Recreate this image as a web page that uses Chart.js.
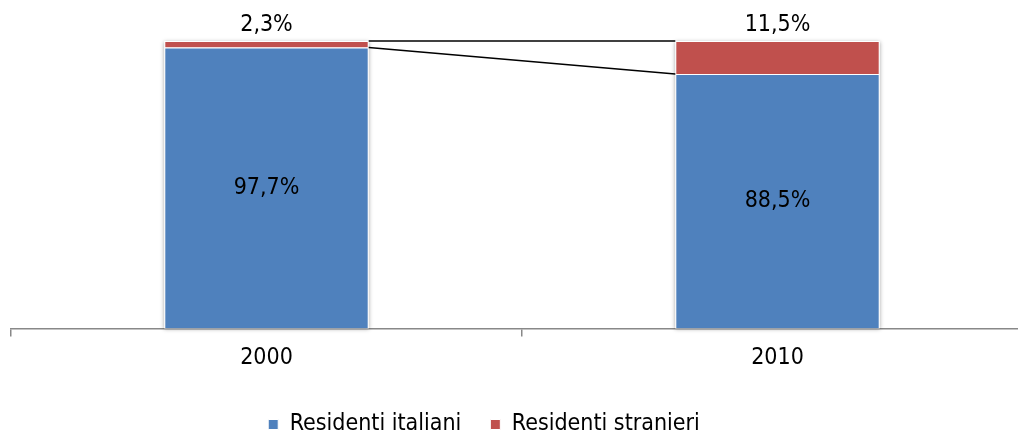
<!DOCTYPE html>
<html>
<head>
<meta charset="utf-8">
<script src="https://cdn.jsdelivr.net/npm/chart.js@4/dist/chart.umd.min.js"></script>
<style>
  html, body { margin: 0; padding: 0; background: #fff; overflow: hidden; }
  #wrap { position: relative; width: 1042px; height: 446px; }
</style>
</head>
<body>
<div id="wrap"><canvas id="myChart"></canvas></div>
<script>
// Composizione dei residenti
var anni = ["2000", "2010"];
var italiani = [97.7, 88.5];
var stranieri = [2.3, 11.5];
var serieNomi = ["Residenti italiani", "Residenti stranieri"];
var colori = ["#4F81BD", "#C0504D"];

var fontName = "'DejaVu Sans Condensed', 'DejaVu Sans', sans-serif";

function fmt(v) {
    return v.toFixed(1).replace(".", ",") + "%";
}

// ombra leggera dietro le colonne
var shadowPlugin = {
    id: "shadow",
    beforeDatasetsDraw: function(chart) {
        var ctx = chart.ctx;
        var m0 = chart.getDatasetMeta(0), m1 = chart.getDatasetMeta(1);
        ctx.save();
        ctx.shadowColor = "rgba(0,0,0,0.35)";
        ctx.shadowBlur = 4;
        ctx.shadowOffsetY = 1;
        ctx.fillStyle = "#fff";
        m0.data.forEach(function(bar, i) {
            var top = m1.data[i].y;
            ctx.fillRect(bar.x - bar.width / 2, top, bar.width, bar.base - top);
        });
        ctx.restore();
    }
};

// linee di serie + etichette
var labelPlugin = {
    id: "labels",
    afterLayout: function(chart) {
        // legenda un po' spostata a sinistra come nell'originale
        chart.legend.left -= 38;
        chart.legend.right -= 38;
    },
    afterDatasetsDraw: function(chart) {
        var ctx = chart.ctx;
        ctx.save();
        ctx.strokeStyle = "#000";
        ctx.lineWidth = 1.5;
        [0, 1].forEach(function(d) {
            var bars = chart.getDatasetMeta(d).data;
            ctx.beginPath();
            ctx.moveTo(bars[0].x + bars[0].width / 2, bars[0].y);
            ctx.lineTo(bars[1].x - bars[1].width / 2, bars[1].y);
            ctx.stroke();
        });
        ctx.fillStyle = "#000";
        ctx.font = "23px " + fontName;
        ctx.textAlign = "center";
        ctx.textBaseline = "middle";
        chart.getDatasetMeta(0).data.forEach(function(bar, i) {
            ctx.fillText(fmt(italiani[i]), bar.x, (bar.y + bar.base) / 2);
        });
        chart.getDatasetMeta(1).data.forEach(function(bar, i) {
            ctx.fillText(fmt(stranieri[i]), bar.x, bar.y - 16);
        });
        ctx.restore();
    }
};

new Chart("myChart", {
    type: "bar",
    data: {
        labels: anni,
        datasets: [{
            label: serieNomi[0],
            data: italiani,
            backgroundColor: colori[0],
            borderColor: "#fff",
            borderWidth: 1
        }, {
            label: serieNomi[1],
            data: stranieri,
            backgroundColor: colori[1],
            borderColor: "#fff",
            borderWidth: 1
        }]
    },
    options: {
        responsive: true,
        maintainAspectRatio: false,
        animation: false,
        events: [],
        layout: { padding: { top: 41, left: 11, right: 9, bottom: 0 } },
        datasets: { bar: { barPercentage: 0.4, categoryPercentage: 1 } },
        scales: {
            x: {
                stacked: true,
                afterFit: function(scale) { scale.height += 4; },
                grid: { drawOnChartArea: false, tickLength: 8, color: "#888", lineWidth: 1.5 },
                border: { color: "#888", width: 1.5 },
                ticks: { color: "#000", padding: 8, font: { family: fontName, size: 23 } }
            },
            y: {
                stacked: true,
                display: false,
                min: 0,
                max: 100
            }
        },
        plugins: {
            tooltip: { enabled: false },
            legend: {
                position: "bottom",
                labels: {
                    color: "#000",
                    boxWidth: 10,
                    boxHeight: 10,
                    padding: 29,
                    font: { family: fontName, size: 23 }
                }
            }
        }
    },
    plugins: [shadowPlugin, labelPlugin]
});
</script>
</body>
</html>
